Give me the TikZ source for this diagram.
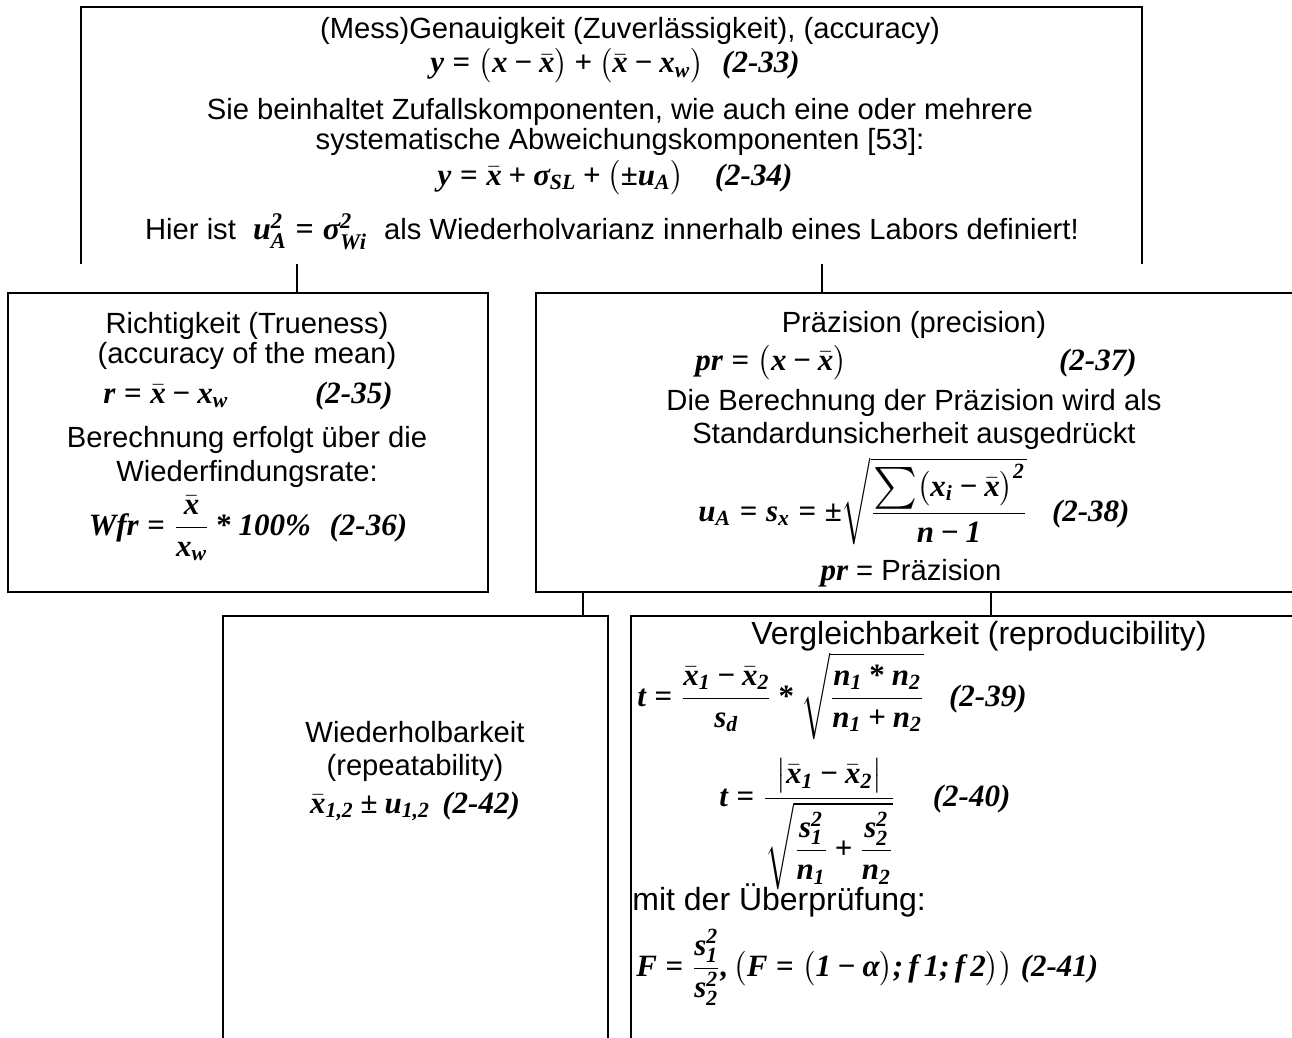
\documentclass[tikz,border=0pt]{standalone}
\usepackage{fix-cm}
\usepackage{amsmath}
\usepackage[no-math]{fontspec}
\usetikzlibrary{calc}
\setmainfont{Liberation Sans}
\newfontfamily\eqf[NFSSFamily=eqser]{Liberation Serif}
\DeclareSymbolFont{eqbi}{TU}{eqser}{bx}{it}
\DeclareSymbolFont{eqb}{TU}{eqser}{bx}{n}
\makeatletter
\@tempcnta=`a
\loop
  \Umathcode\@tempcnta=7 \symeqbi\@tempcnta
  \Umathcode\numexpr\@tempcnta-32\relax=7 \symeqbi\numexpr\@tempcnta-32\relax
  \ifnum\@tempcnta<`z \advance\@tempcnta by 1
\repeat
\@tempcnta=`0
\loop
  \Umathcode\@tempcnta=7 \symeqbi\@tempcnta
  \ifnum\@tempcnta<`9 \advance\@tempcnta by 1
\repeat
\makeatother
\Umathcode`\+ = 2 \symeqb `\+
\Umathcode`\= = 3 \symeqb `\=
\Umathcode`\- = 2 \symeqb "2212
\Umathcode`\* = 2 \symeqb `\*
\Umathcode`\, = 6 \symeqbi `\,
\Umathcode`\; = 6 \symeqbi `\;
\Umathcode`\% = 7 \symeqbi `\%
\Umathchardef\pm = 2 \symeqb "00B1
\Umathchardef\ast = 2 \symeqb `\*
\Umathchardef\sigma = 7 \symeqbi "03C3
\Umathchardef\alpha = 7 \symeqbi "03B1
\newcommand{\eqtag}[1]{{\eqf\bfseries\itshape(#1)}}
\newcommand{\bigsum}{\mathop{\vcenter{\hbox{\scalebox{1.45}{$\sum$}}}}}

\tikzset{
  box/.style={draw, line width=1pt, inner sep=0pt, anchor=north west},
  frame/.style={line width=1pt},
  txt/.style={inner sep=0pt, anchor=base, font=\fontsize{14.6}{17}\selectfont},
  bigtxt/.style={txt, font=\fontsize{16}{19}\selectfont},
  eq/.style={inner sep=0pt, anchor=base, font=\fontsize{15.5}{18}\selectfont},
}

\begin{document}
\begin{tikzpicture}[x=0.5pt,y=-0.5pt]
\useasboundingbox (0,0) rectangle (1292,1038);
\fill[white] (0,0) rectangle (1292,1038);
\clip (0,0) rectangle (1292,1038);

\node[box, draw=none, minimum width=529.5pt, minimum height=127.5pt] (acc) at (81,7) {};
\draw[frame] (acc.south west) -- (acc.north west) -- (acc.north east) -- (acc.south east);
\node[box, minimum width=240pt, minimum height=149.5pt] (rich) at (7,292) {};
\node[box, minimum width=379pt, minimum height=149.5pt] (prec) at (535,292) {};
\node[box, minimum width=192.5pt, minimum height=230pt] (rep) at (222,615) {};
\node[box, minimum width=351pt, minimum height=230pt] (repro) at (630,615) {};

\foreach \a/\sa/\b/\sb in {acc/216/rich/290, acc/741/prec/287, prec/48/rep/361, prec/456/repro/361}
  \draw[frame] ($(\a.south west)+(\sa,0)$) -- ($(\b.north west)+(\sb,0)$);

\foreach \n/\x/\y/\t in {
accT1/630/39/{(Mess)Genauigkeit (Zuverlässigkeit), (accuracy)},
accT2/620/120/{Sie beinhaltet Zufallskomponenten, wie auch eine oder mehrere},
accT3/620/150/{systematische Abweichungskomponenten [53]:},
richT1/247/333/{Richtigkeit (Trueness)},
richT2/247/363/{(accuracy of the mean)},
richT3/247/447/{Berechnung erfolgt über die},
richT4/247/481/{Wiederfindungsrate:},
precT1/914/332/{Präzision (precision)},
precT2/914/410/{Die Berechnung der Präzision wird als},
precT3/914/443/{Standardunsicherheit ausgedrückt},
repT1/415/742/{Wiederholbarkeit},
repT2/415/775/{(repeatability)}
}{
  \node[txt] (\n) at (\x,\y) {\t};
}

\node[eq] (accF1) at (615,73) {$y = \bigl(x - \bar{x}\bigr) + \bigl(\bar{x} - x_{w}\bigr)$\hspace{0.6em}\eqtag{2-33}};
\node[eq] (accF2) at (615,185) {$y = \bar{x} + \sigma_{SL} + \bigl(\pm u_{A}\bigr)$\hspace{1em}\eqtag{2-34}};
\node[txt] (accT4) at (612,240) {Hier ist {\fontsize{16}{18}\selectfont$\;u_{A}^{2} \mathrel{=} \sigma_{Wi}^{2}\;$} als Wiederholvarianz innerhalb eines Labors definiert!};

\node[eq, anchor=base west] (richF1) at (103,403) {$r = \bar{x} - x_{w}$};
\node[eq, anchor=base east] (richN1) at (393,403) {\eqtag{2-35}};
\node[eq] (richF2) at (248,535) {$Wfr = \dfrac{\bar{x}}{x_{w}} \ast 100\%$\hspace{0.6em}\eqtag{2-36}};

\node[eq, anchor=base west] (precF1) at (695,370) {$pr = \bigl(x - \bar{x}\bigr)$};
\node[eq, anchor=base east] (precN1) at (1137,370) {\eqtag{2-37}};
\node[eq] (precF2) at (914,521) {$u_{A} = s_{x} = \pm\sqrt{\dfrac{\bigsum\bigl(x_{i} - \bar{x}\bigr)^{2}}{n - 1}}$\hspace{0.8em}\eqtag{2-38}};
\node[txt] (precT4) at (911,580) {{\fontsize{15.5}{18}\selectfont\eqf\bfseries\itshape pr} = Präzision};

\node[eq] (repF1) at (415,813) {$\bar{x}_{1,2} \pm u_{1,2}$\hspace{0.4em}\eqtag{2-42}};

\node[bigtxt] (reproT1) at (979,644) {Vergleichbarkeit (reproducibility)};
\node[eq, anchor=base west] (reproF1) at (637,706) {$t = \dfrac{\bar{x}_{1} - \bar{x}_{2}}{s_{d}} \ast \sqrt{\dfrac{n_{1} \ast n_{2}}{n_{1} + n_{2}}}$\hspace{0.8em}\eqtag{2-39}};
\node[eq, anchor=base west] (reproF2) at (719,806) {$t = \dfrac{\bigl|\bar{x}_{1} - \bar{x}_{2}\bigr|}{\sqrt{\dfrac{s_{1}^{2}}{n_{1}} + \dfrac{s_{2}^{2}}{n_{2}}}}$\hspace{1.2em}\eqtag{2-40}};
\node[bigtxt, anchor=base west] (reproT2) at (632,910) {mit der Überprüfung:};
\node[eq, anchor=base west] (reproF3) at (636,976) {$F = \dfrac{s_{1}^{2}}{s_{2}^{2}}, \bigl(F = \bigl(1 - \alpha\bigr); f\,1; f\,2\bigr)\bigr)$ \eqtag{2-41}};
\end{tikzpicture}
\end{document}
